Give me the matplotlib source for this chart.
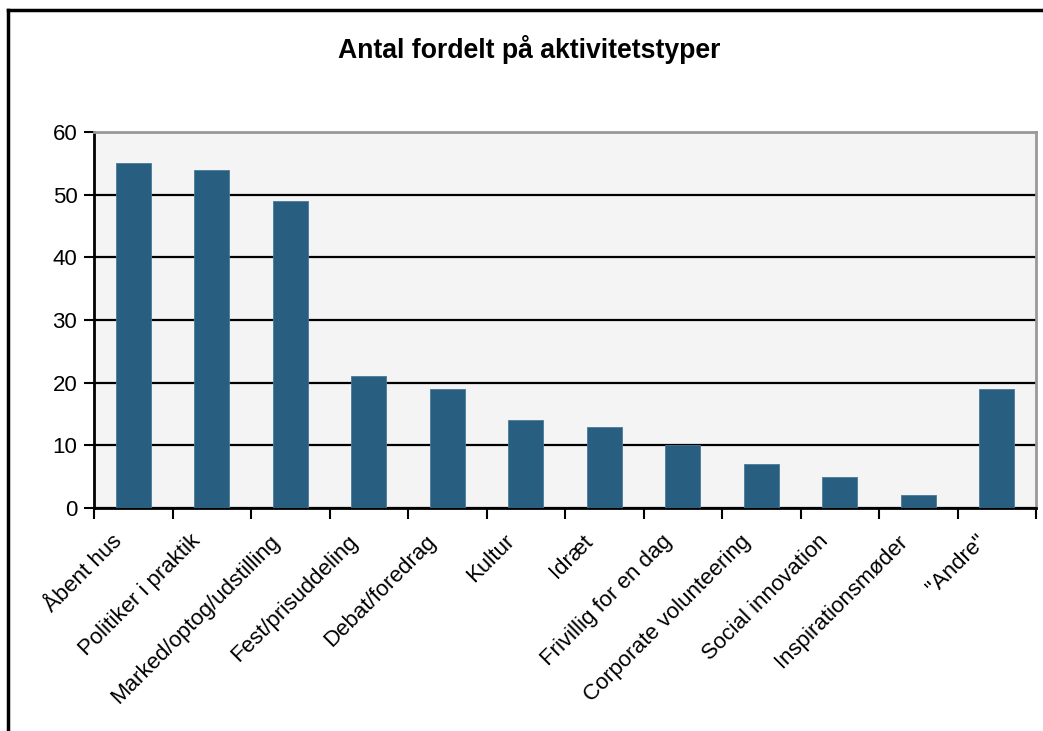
import matplotlib
matplotlib.use('Agg')
from matplotlib import pyplot as plt
from matplotlib.lines import Line2D
from matplotlib.transforms import ScaledTranslation

categories = ['Åbent hus', 'Politiker i praktik', 'Marked/optog/udstilling', 'Fest/prisuddeling',
              'Debat/foredrag', 'Kultur', 'Idræt', 'Frivillig for en dag', 'Corporate volunteering',
              'Social innovation', 'Inspirationsmøder', '"Andre"']
values = [55, 54, 49, 21, 19, 14, 13, 10, 7, 5, 2, 19]
yticks = [0, 10, 20, 30, 40, 50, 60]

plt.rcParams['font.family'] = ['Liberation Sans', 'DejaVu Sans']

fig = plt.figure(figsize=(10.43, 7.31), dpi=100)
ax = fig.add_axes([94 / 1043, 1 - 508 / 731, (1036 - 94) / 1043, (508 - 132) / 731])
ax.set_facecolor('#f4f4f4')

x = list(range(len(categories)))
ax.bar(x, values, width=0.44, color='#285e80', edgecolor='#4a7a99', linewidth=0.6, zorder=3)

ax.set_xlim(-0.5, len(categories) - 0.5)
ax.set_ylim(0, 60)
ax.set_yticks(yticks)
ax.tick_params(axis='y', labelsize=16, length=7, width=1.5, direction='out', pad=5)
ax.yaxis.grid(True, color='black', linewidth=1.6, zorder=1)

# ticks between categories, labels at centers
ax.set_xticks([i - 0.5 for i in range(len(categories) + 1)])
ax.set_xticklabels([])
ax.set_xticks(x, minor=True)
labels = ax.set_xticklabels(categories, minor=True, rotation=45, ha='right', va='center',
                            rotation_mode='anchor', fontsize=16)
ax.tick_params(axis='x', which='major', length=8, width=1.5, direction='out')
ax.tick_params(axis='x', which='minor', length=0, pad=16)
shift = ScaledTranslation(-14 / 100, -8 / 100, fig.dpi_scale_trans)
for lab in labels:
    lab.set_transform(lab.get_transform() + shift)

for s in ['left', 'bottom']:
    ax.spines[s].set_linewidth(2)
    ax.spines[s].set_color('black')
for s in ['top', 'right']:
    ax.spines[s].set_linewidth(2)
    ax.spines[s].set_color('#999999')

fig.text(529 / 1043, 1 - 50 / 731, 'Antal fordelt på aktivitetstyper', ha='center', va='center',
         fontsize=19.2, fontweight='bold')

# figure frame (top and left edges visible)
fig.add_artist(Line2D([8 / 1043, 1], [1 - 10 / 731, 1 - 10 / 731], color='black', linewidth=2.5))
fig.add_artist(Line2D([8 / 1043, 8 / 1043], [0, 1 - 10 / 731], color='black', linewidth=2.5))

fig.savefig('out.png', dpi=100)
